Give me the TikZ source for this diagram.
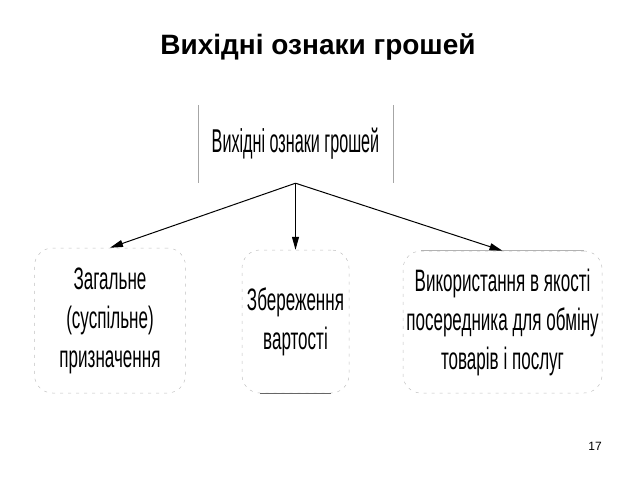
\documentclass[tikz,border=0pt]{standalone}
\usepackage{fontspec}
\setmainfont{Liberation Sans}
\newfontfamily\narrowbox[FakeStretch=0.55]{Liberation Sans}
\newfontfamily\narrowtop[FakeStretch=0.49]{Liberation Sans}
\usetikzlibrary{arrows.meta}
\begin{document}
\begin{tikzpicture}[x=1pt,y=-1pt,
  softbox/.style={draw=gray!50, line width=0.5pt, dash pattern=on 3pt off 5pt,
    rounded corners=18pt, align=center, inner sep=0pt,
    font=\narrowbox\fontsize{31}{39}\selectfont},
  conn/.style={line width=1pt, -{Triangle[length=13pt,width=7pt]}},
  sideline/.style={draw=gray!70, line width=0.6pt}]
\useasboundingbox (0,0) rectangle (640,480);
\node[font=\bfseries\fontsize{28}{32}\selectfont] (title) at (318,47) {Вихідні ознаки грошей};
\node[minimum width=195pt, minimum height=78pt, inner sep=0pt,
  font=\narrowtop\fontsize{33}{38}\selectfont] (top) at (295.5,144) {Вихідні ознаки грошей};
\draw[sideline] (top.north west) -- (top.south west);
\draw[sideline] (top.north east) -- (top.south east);
\node[softbox, minimum width=151pt, minimum height=145pt] (b1) at (110,320.5)
  {Загальне\\(суспільне)\\призначення};
\node[softbox, minimum width=107pt, minimum height=143pt] (b2) at (295.5,321.5)
  {Збереження\\вартості};
\node[softbox, minimum width=199pt, minimum height=142pt] (b3) at (502.5,322)
  {Використання в якості\\посередника для обміну\\товарів і послуг};
\draw[gray!80!black, line width=0.8pt] ([xshift=18pt]b2.south west) -- ([xshift=-18pt]b2.south east);
\draw[gray!60, line width=0.6pt] ([xshift=18pt]b3.north west) -- ([xshift=-18pt]b3.north east);
\draw[conn] (top.south) -- (b1.north);
\draw[conn] (top.south) -- (b2.north);
\draw[conn] (top.south) -- (b3.north);
\node[font=\fontsize{12}{14}\selectfont] (pg) at (595,446) {17};
\end{tikzpicture}
\end{document}
